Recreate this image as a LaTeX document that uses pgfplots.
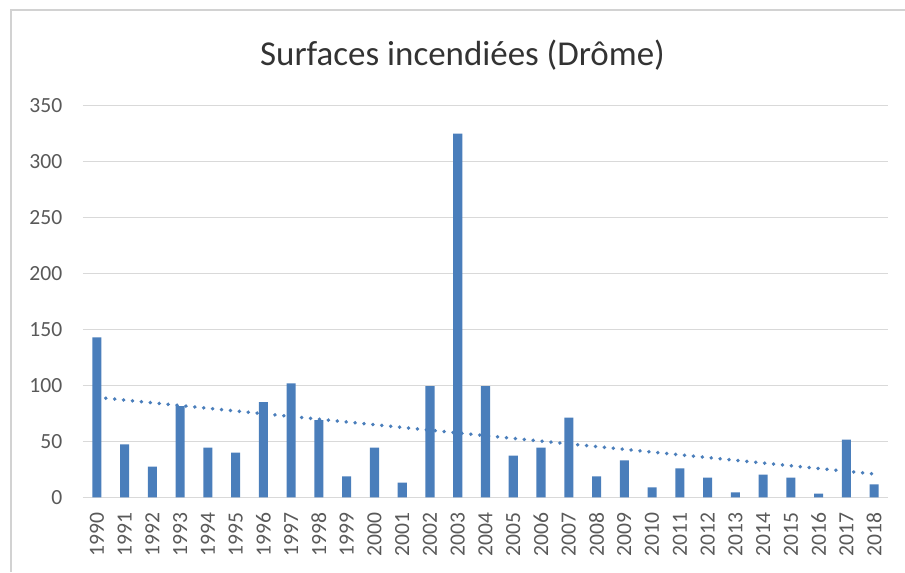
\documentclass[border=0pt]{standalone}
\usepackage{pgfplots}
\pgfplotsset{compat=1.18}
\usepackage{fontspec}
\setmainfont{Carlito}

\definecolor{barblue}{HTML}{4A7EBB}
\definecolor{gridgray}{HTML}{D9D9D9}
\definecolor{ticktext}{HTML}{595959}
\definecolor{titletext}{HTML}{333333}

\begin{document}
\begin{tikzpicture}
% frame of the chart area (only top and left edges visible in the reference)
\path[use as bounding box] (-62.25pt,-56pt) rectangle (616.5pt,373pt);
\draw[gray!35, line width=0.8pt] (-54pt,-56pt) -- (-54pt,365.5pt) -- (616.5pt,365.5pt);

\begin{axis}[
    scale only axis,
    width=603.75pt, height=293.7pt,
    xmin=1989.5, xmax=2018.5,
    ymin=0, ymax=350,
    xtick={1990,1991,...,2018},
    ytick={0,50,...,350},
    axis line style={draw=none},
    major tick length=0pt,
    ymajorgrids=true,
    grid style={gridgray, line width=0.8pt},
    /pgf/number format/assume math mode=true,
    /pgf/number format/1000 sep={},
    tick label style={font=\fontsize{16.2}{17}\selectfont, text=ticktext},
    xticklabel style={rotate=90, anchor=east, xshift=-8pt},
    yticklabel style={anchor=east, xshift=-12pt},
    clip=false,
]
\addplot[ybar, bar width=6.8pt, fill=barblue, draw=none] coordinates {
    (1990,143) (1991,47.4) (1992,27.4) (1993,81.6) (1994,44.4)
    (1995,40) (1996,85.2) (1997,101.9) (1998,69) (1999,18.8)
    (2000,44.4) (2001,13.1) (2002,99.5) (2003,325) (2004,99.5)
    (2005,37.2) (2006,44.4) (2007,71.2) (2008,18.8) (2009,33)
    (2010,8.9) (2011,25.9) (2012,17.6) (2013,4.5) (2014,20.3)
    (2015,17.6) (2016,3.3) (2017,51.5) (2018,11.6)
};
% linear trend
\addplot[barblue, line width=2.9pt, line cap=round, dash pattern=on 0.01pt off 6.7pt] coordinates {
    (1990,89.4) (2018,20.9)
};
\end{axis}

\node[anchor=base, text=titletext, font=\fontsize{26.2}{30}\selectfont] at (284.6pt,324.2pt) {Surfaces incendiées (Drôme)};
\end{tikzpicture}
\end{document}
